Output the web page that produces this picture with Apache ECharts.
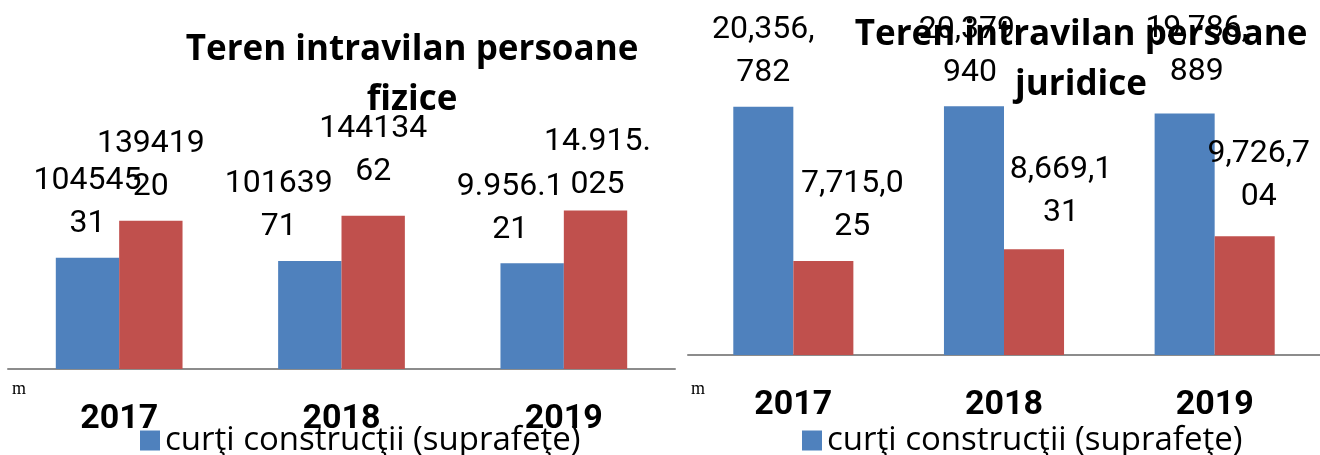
<!DOCTYPE html>
<html>
<head>
<meta charset="utf-8">
<script src="https://cdn.jsdelivr.net/npm/echarts@6/dist/echarts.min.js"></script>
<style>
    html, body { margin: 0; padding: 0; background: #fff; }
    #bars { width: 1320px; height: 455px; }
</style>
</head>
<body>
<div id="bars"></div>
<script>
const years = ['2017', '2018', '2019'];
const legendName = 'curţi construcţii (suprafeţe)';

// persoane fizice
const fiziceCurti = [10454531, 10163971, 9956121];
const fiziceTeren = [13941920, 14413462, 14915025];
const fiziceSep = ['', '', '.'];

// persoane juridice
const juridiceCurti = [20356782, 20379940, 19786889];
const juridiceTeren = [7715025, 8669131, 9726704];
const juridiceSep = [',', ',', ','];

// nudges for the hand-moved data labels
const fiziceCurtiShift = [[0, 0], [-31, 0], [-22, 0]];
const fiziceTerenShift = [[0, 0], [0, -10], [2, 8]];
const juridiceCurtiShift = [[0, 0], [-4, 0], [12, -8]];
const juridiceTerenShift = [[29, 0], [27, -3], [14, -6]];

const blue = '#4F81BD';
const red = '#C0504D';
const font = 'Roboto';
const titleFont = 'Open Sans';

// group digits, then wrap like the narrow label box did
const labelText = (v, sep) => {
    const s = sep ? String(v).replace(/\B(?=(\d{3})+(?!\d))/g, sep) : String(v);
    const n = sep ? 7 : 6;
    return s.length > n ? s.slice(0, n) + '\n' + s.slice(n) : s;
}

const makeData = (values, seps, shifts) => values.map((v, i) => ({
    value: v,
    label: { formatter: labelText(v, seps[i]), offset: shifts[i] }
}));

const barLabel = {
    show: true,
    position: 'top',
    distance: 12,
    color: '#000',
    fontFamily: font,
    fontSize: 32,
    lineHeight: 43
};

const xAxisBase = {
    type: 'category',
    data: years,
    axisLine: { lineStyle: { color: '#8c8c8c', width: 2 } },
    axisTick: { length: 12, lineStyle: { color: '#8c8c8c', width: 2 } },
    axisLabel: { color: '#000', fontFamily: font, fontWeight: 'bold', fontSize: 34, margin: 33 }
};

const yAxisBase = {
    type: 'value',
    min: 0,
    show: false,
    splitLine: { show: false }
};

const titleStyle = { color: '#000', fontFamily: titleFont, fontWeight: 'bold', fontSize: 35, lineHeight: 50 };
const legendStyle = { color: '#000', fontFamily: titleFont, fontSize: 33 };

const chart = echarts.init(document.getElementById('bars'));
const option = {
    animation: false,
    title: [
        {
            text: 'Teren intravilan persoane\nfizice',
            left: 412,
            top: 25,
            padding: 0,
            textAlign: 'center',
            textStyle: titleStyle
        },
        {
            text: 'Teren intravilan persoane\njuridice',
            left: 1081,
            top: 10,
            padding: 0,
            textAlign: 'center',
            textStyle: titleStyle
        }
    ],
    legend: [
        {
            left: 140,
            top: 424,
            padding: 0,
            itemWidth: 20,
            itemHeight: 20,
            itemGap: 0,
            icon: 'rect',
            data: [legendName],
            textStyle: legendStyle
        },
        {
            left: 802,
            top: 424,
            padding: 0,
            itemWidth: 20,
            itemHeight: 20,
            itemGap: 0,
            icon: 'rect',
            data: [legendName],
            textStyle: legendStyle
        }
    ],
    grid: [
        { left: 8, right: 645, top: 50, bottom: 86 },
        { left: 688, right: -7, top: 50, bottom: 100 }
    ],
    xAxis: [
        { ...xAxisBase, gridIndex: 0 },
        { ...xAxisBase, gridIndex: 1 }
    ],
    yAxis: [
        { ...yAxisBase, gridIndex: 0, max: 30000000 },
        { ...yAxisBase, gridIndex: 1, max: 25000000 }
    ],
    graphic: [
        { type: 'text', left: 12, top: 380, style: { text: 'm', fontFamily: 'Liberation Serif', fontSize: 18, fill: '#000' } },
        { type: 'text', left: 691, top: 380, style: { text: 'm', fontFamily: 'Liberation Serif', fontSize: 18, fill: '#000' } }
    ],
    series: [
        {
            name: legendName,
            type: 'bar',
            xAxisIndex: 0,
            yAxisIndex: 0,
            barGap: 0,
            barCategoryGap: '43%',
            itemStyle: { color: blue },
            label: barLabel,
            data: makeData(fiziceCurti, fiziceSep, fiziceCurtiShift)
        },
        {
            name: 'teren',
            type: 'bar',
            xAxisIndex: 0,
            yAxisIndex: 0,
            barGap: 0,
            barCategoryGap: '43%',
            itemStyle: { color: red },
            label: barLabel,
            data: makeData(fiziceTeren, fiziceSep, fiziceTerenShift)
        },
        {
            name: legendName,
            type: 'bar',
            xAxisIndex: 1,
            yAxisIndex: 1,
            barGap: 0,
            barCategoryGap: '43%',
            itemStyle: { color: blue },
            label: barLabel,
            data: makeData(juridiceCurti, juridiceSep, juridiceCurtiShift)
        },
        {
            name: 'teren',
            type: 'bar',
            xAxisIndex: 1,
            yAxisIndex: 1,
            barGap: 0,
            barCategoryGap: '43%',
            itemStyle: { color: red },
            label: barLabel,
            data: makeData(juridiceTeren, juridiceSep, juridiceTerenShift)
        }
    ]
};
chart.setOption(option);
</script>
</body>
</html>
